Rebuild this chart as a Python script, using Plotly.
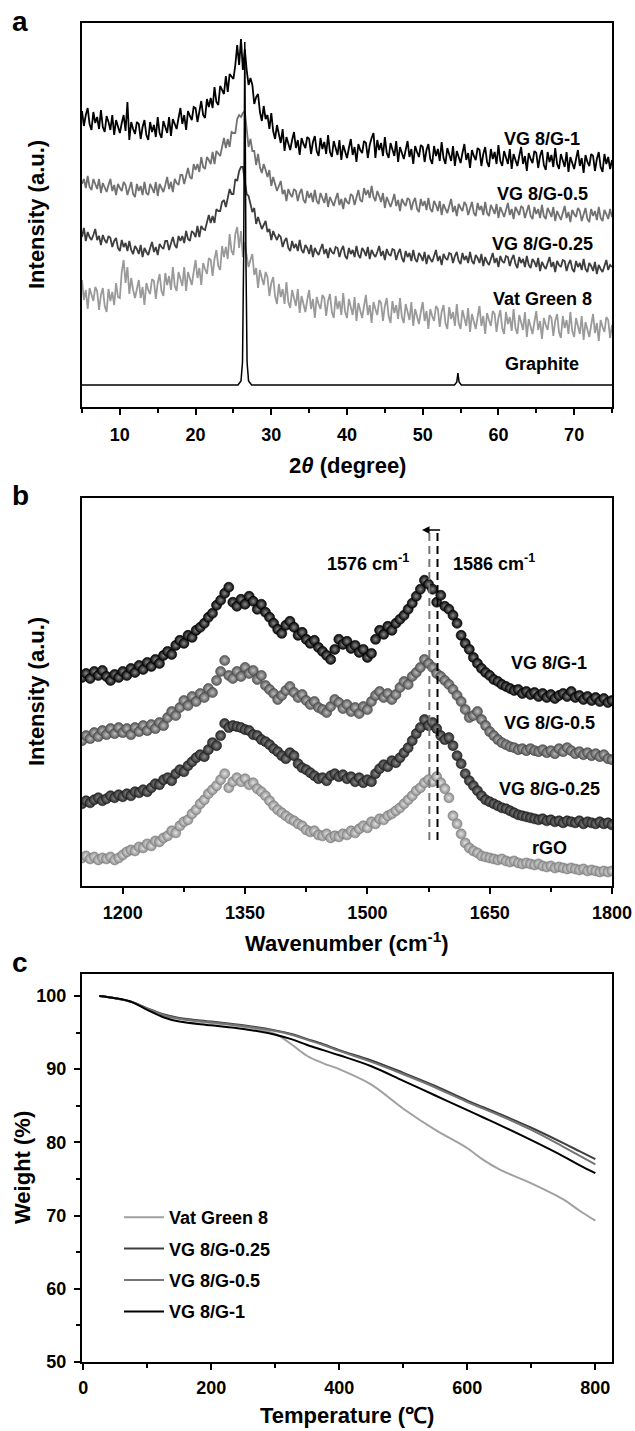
import plotly.graph_objects as go

W, H = 635, 1431
FONT = 'Liberation Sans, Arial, sans-serif'

# %% panel a - XRD (intensity in arbitrary units, 0.25 degree steps)
two_theta = [5 + 0.25 * i for i in range(281)]

xrd_vg1 = [296, 281, 292, 299, 283, 277, 295, 284, 290, 278,
           297, 280, 275, 291, 285, 277, 292, 272, 287, 279,
           274, 284, 292, 276, 305, 267, 285, 278, 273, 285,
           283, 268, 280, 287, 272, 267, 285, 275, 282, 270,
           290, 274, 269, 286, 280, 274, 290, 271, 288, 282,
           278, 289, 299, 283, 292, 277, 296, 291, 287, 300,
           299, 285, 298, 306, 292, 289, 308, 300, 309, 299,
           320, 305, 302, 321, 317, 313, 331, 315, 333, 330,
           328, 342, 362, 342, 368, 337, 358, 337, 322, 329,
           322, 303, 310, 313, 295, 286, 301, 288, 292, 278,
           294, 276, 268, 282, 273, 264, 278, 256, 270, 263,
           257, 267, 275, 259, 267, 252, 269, 263, 259, 270,
           268, 253, 265, 271, 256, 251, 269, 258, 265, 253,
           272, 255, 250, 266, 260, 252, 267, 247, 262, 254,
           249, 259, 268, 252, 260, 245, 263, 257, 254, 266,
           264, 249, 262, 269, 274, 249, 267, 257, 264, 251,
           270, 254, 249, 264, 258, 251, 266, 245, 260, 253,
           248, 257, 266, 250, 258, 243, 261, 255, 250, 262,
           260, 245, 257, 263, 248, 243, 261, 251, 258, 246,
           265, 249, 243, 259, 253, 246, 261, 241, 256, 249,
           244, 254, 263, 247, 254, 239, 257, 251, 247, 259,
           257, 241, 253, 260, 245, 240, 258, 248, 255, 243,
           262, 246, 241, 256, 250, 243, 258, 238, 253, 246,
           241, 251, 260, 243, 251, 236, 254, 248, 244, 256,
           254, 239, 251, 257, 242, 237, 255, 245, 252, 240,
           259, 243, 238, 253, 247, 240, 255, 235, 250, 243,
           238, 248, 257, 241, 249, 234, 252, 245, 241, 253,
           251, 236, 248, 255, 240, 235, 253, 243, 250, 238,
           247]

xrd_vg05 = [223, 228, 219, 231, 220, 217, 228, 223, 218, 228,
            214, 224, 219, 215, 222, 228, 216, 222, 212, 223,
            219, 216, 225, 222, 212, 220, 225, 213, 210, 223,
            216, 221, 212, 225, 214, 212, 223, 219, 214, 225,
            211, 223, 218, 215, 222, 230, 218, 225, 215, 228,
            224, 222, 232, 232, 223, 233, 239, 230, 228, 243,
            237, 243, 235, 250, 240, 238, 250, 247, 243, 255,
            243, 256, 253, 251, 260, 269, 259, 268, 260, 275,
            274, 274, 288, 292, 290, 294, 296, 275, 260, 268,
            256, 256, 242, 253, 240, 234, 243, 237, 230, 237,
            221, 230, 223, 216, 221, 226, 213, 217, 206, 218,
            213, 210, 218, 216, 206, 214, 218, 207, 204, 216,
            209, 214, 205, 217, 206, 203, 214, 209, 204, 214,
            200, 210, 205, 201, 208, 214, 202, 208, 198, 209,
            205, 203, 213, 211, 202, 211, 217, 207, 205, 219,
            212, 217, 209, 221, 210, 206, 216, 211, 205, 214,
            199, 210, 204, 200, 206, 213, 201, 207, 196, 208,
            204, 201, 209, 207, 197, 205, 209, 198, 195, 208,
            201, 206, 197, 209, 198, 195, 206, 202, 196, 206,
            192, 203, 198, 194, 201, 208, 195, 201, 191, 203,
            199, 196, 205, 202, 192, 200, 205, 194, 191, 204,
            197, 201, 192, 205, 194, 191, 202, 198, 193, 203,
            189, 200, 195, 190, 197, 204, 192, 198, 188, 200,
            196, 192, 201, 199, 189, 197, 202, 191, 188, 200,
            193, 198, 189, 202, 191, 188, 199, 195, 190, 200,
            186, 196, 191, 187, 194, 201, 189, 195, 185, 197,
            193, 190, 199, 196, 186, 194, 199, 188, 185, 198,
            191, 196, 187, 200, 189, 186, 197, 193, 188, 198,
            190]

xrd_vg025 = [170, 179, 166, 175, 170, 167, 172, 178, 167, 171,
             162, 172, 167, 164, 171, 169, 160, 166, 169, 159,
             156, 167, 160, 164, 156, 166, 157, 153, 161, 158,
             153, 162, 150, 159, 155, 152, 159, 165, 155, 160,
             152, 163, 160, 158, 166, 166, 157, 165, 170, 162,
             159, 171, 166, 171, 164, 176, 168, 166, 176, 174,
             170, 181, 170, 181, 178, 177, 185, 192, 184, 191,
             184, 198, 196, 196, 205, 207, 200, 211, 218, 213,
             213, 228, 226, 236, 240, 240, 226, 213, 211, 204,
             195, 199, 183, 190, 184, 178, 182, 186, 175, 178,
             167, 176, 171, 167, 172, 170, 160, 166, 169, 159,
             156, 166, 159, 163, 156, 167, 157, 154, 162, 159,
             153, 162, 150, 159, 155, 152, 158, 163, 153, 158,
             149, 159, 155, 153, 160, 159, 150, 157, 161, 151,
             148, 159, 153, 157, 150, 161, 152, 149, 159, 156,
             151, 160, 148, 157, 153, 150, 155, 161, 151, 156,
             147, 158, 153, 151, 158, 157, 147, 154, 158, 149,
             145, 156, 150, 154, 146, 157, 148, 145, 154, 151,
             146, 155, 143, 152, 148, 145, 151, 157, 146, 151,
             142, 153, 149, 147, 154, 153, 144, 151, 155, 146,
             143, 154, 147, 151, 144, 155, 146, 143, 152, 149,
             144, 153, 141, 150, 145, 142, 148, 154, 144, 149,
             140, 151, 146, 144, 151, 150, 141, 148, 152, 143,
             139, 150, 144, 148, 140, 151, 142, 139, 148, 145,
             140, 149, 136, 145, 141, 138, 144, 150, 140, 145,
             135, 146, 142, 140, 147, 146, 136, 143, 147, 138,
             135, 146, 140, 144, 137, 148, 138, 135, 144, 141,
             136, 145, 133, 142, 138, 135, 141, 147, 137, 142,
             140]

xrd_vat = [127, 107, 117, 98, 119, 111, 106, 120, 116, 97,
           112, 119, 101, 95, 118, 106, 115, 102, 124, 110,
           109, 135, 147, 124, 140, 113, 129, 117, 109, 118,
           127, 109, 120, 102, 124, 117, 113, 128, 126, 108,
           124, 133, 116, 111, 134, 122, 131, 117, 140, 121,
           116, 135, 129, 121, 140, 116, 135, 127, 122, 135,
           147, 129, 139, 122, 144, 138, 133, 149, 147, 131,
           148, 157, 141, 137, 161, 150, 160, 148, 173, 156,
           152, 173, 180, 159, 176, 150, 165, 151, 140, 147,
           153, 132, 139, 119, 137, 129, 122, 135, 130, 111,
           124, 130, 111, 103, 123, 110, 118, 103, 125, 105,
           99, 117, 109, 101, 118, 94, 111, 102, 95, 107,
           117, 98, 108, 89, 110, 103, 98, 112, 109, 91,
           106, 113, 95, 89, 111, 98, 106, 92, 114, 95,
           89, 108, 101, 92, 110, 86, 104, 95, 89, 101,
           112, 92, 102, 84, 105, 98, 92, 107, 104, 86,
           101, 109, 91, 84, 106, 94, 102, 88, 109, 90,
           84, 103, 95, 87, 105, 81, 98, 89, 83, 95,
           105, 86, 96, 78, 98, 91, 86, 101, 98, 80,
           95, 102, 84, 78, 100, 88, 95, 81, 103, 84,
           78, 97, 90, 81, 99, 75, 93, 84, 78, 90,
           101, 81, 91, 73, 94, 87, 81, 96, 93, 75,
           89, 97, 79, 73, 95, 83, 90, 76, 98, 79,
           73, 92, 85, 77, 95, 70, 88, 79, 73, 85,
           96, 77, 86, 68, 89, 82, 77, 92, 89, 71,
           86, 93, 75, 69, 91, 79, 87, 73, 95, 76,
           70, 89, 82, 73, 91, 67, 85, 76, 70, 82,
           93, 74, 84, 66, 87, 80, 75, 90, 87, 69,
           82]

graphite_2theta = [5, 25.6, 26.0, 26.2, 26.35, 26.5, 26.65, 26.8, 27.0, 27.4,
                   54.2, 54.5, 54.65, 54.8, 55.1, 75]
graphite_int = [22, 22, 26, 45, 150, 365, 150, 45, 26, 22,
                22, 25, 34, 25, 22, 22]

xrd_names = ['VG 8/G-1', 'VG 8/G-0.5', 'VG 8/G-0.25', 'Vat Green 8', 'Graphite']
xrd_label_y = [268, 213, 163, 108, 43]

# %% panel b - Raman
wavenumber = list(range(1150, 1805, 5))

raman_rgo = [28, 30, 27, 29, 26, 28, 27, 29, 26, 28,
             31, 34, 36, 35, 39, 38, 42, 40, 45, 44,
             48, 50, 55, 53, 60, 64, 66, 72, 76, 82,
             86, 92, 96, 100, 106, 112, 98, 104, 108, 104,
             107, 101, 103, 97, 94, 90, 85, 80, 76, 73,
             70, 67, 65, 62, 60, 56, 54, 55, 51, 50,
             52, 48, 50, 49, 52, 51, 55, 53, 57, 60,
             58, 64, 62, 67, 66, 70, 72, 75, 78, 82,
             86, 90, 95, 98, 103, 106, 104, 109, 103, 97,
             88, 70, 62, 52, 43, 38, 35, 33, 30, 29,
             28, 27, 26, 27, 25, 24, 25, 23, 22, 23,
             22, 21, 22, 20, 19, 20, 18, 19, 18, 17,
             18, 17, 16, 17, 15, 16, 15, 14, 15, 14,
             15]

raman_vg025 = [82, 85, 83, 86, 88, 85, 87, 90, 88, 91,
               89, 92, 90, 94, 93, 96, 94, 98, 102, 101,
               106, 108, 105, 112, 116, 114, 120, 124, 128, 131,
               129, 136, 143, 140, 150, 162, 158, 160, 159, 158,
               156, 155, 151, 150, 146, 144, 141, 137, 134, 130,
               127, 133, 130, 122, 118, 116, 113, 110, 107, 108,
               105, 110, 112, 109, 111, 107, 109, 104, 108, 103,
               106, 104, 112, 117, 121, 119, 125, 123, 128, 133,
               138, 145, 152, 158, 166, 160, 163, 157, 150, 146,
               148, 140, 130, 122, 112, 105, 100, 95, 90, 86,
               84, 82, 80, 78, 77, 75, 73, 71, 70, 69,
               68, 67, 66, 67, 65, 66, 64, 65, 63, 65,
               64, 63, 65, 62, 64, 63, 62, 64, 62, 63,
               61]

raman_vg05 = [145, 150, 147, 153, 149, 155, 151, 157, 152, 158,
              153, 157, 151, 158, 154, 160, 155, 161, 157, 163,
              160, 168, 174, 170, 178, 185, 180, 189, 184, 192,
              188, 197, 193, 205, 214, 225, 210, 207, 214, 209,
              218, 212, 215, 206, 210, 200, 196, 192, 186, 190,
              195, 199, 193, 188, 191, 185, 181, 184, 178, 176,
              173, 179, 186, 183, 177, 181, 174, 178, 172, 179,
              176, 184, 190, 194, 188, 192, 186, 191, 198, 204,
              201, 209, 213, 218, 226, 222, 218, 212, 209, 205,
              201, 196, 190, 184, 176, 168, 170, 174, 166, 160,
              154, 150, 146, 143, 141, 139, 138, 136, 137, 135,
              137, 135, 134, 136, 133, 135, 132, 137, 134, 138,
              135, 132, 134, 131, 133, 130, 132, 129, 131, 127,
              126]

raman_vg1 = [208, 212, 207, 214, 210, 215, 209, 205, 211, 208,
             214, 210, 217, 213, 220, 216, 223, 219, 226, 222,
             230, 234, 231, 240, 245, 242, 250, 248, 255, 258,
             262, 268, 272, 280, 285, 292, 298, 283, 279, 286,
             281, 289, 284, 276, 281, 273, 268, 262, 256, 252,
             260, 264, 258, 250, 253, 246, 242, 245, 238, 234,
             230, 226, 236, 246, 241, 244, 237, 240, 233, 236,
             228, 232, 246, 255, 251, 259, 255, 262, 266, 270,
             276, 282, 289, 296, 305, 301, 296, 283, 290, 279,
             276, 270, 262, 250, 242, 236, 228, 222, 217, 213,
             210, 206, 204, 201, 199, 197, 195, 196, 192, 194,
             191, 193, 189, 192, 188, 191, 187, 190, 192, 189,
             194, 188, 190, 186, 189, 185, 188, 184, 187, 183,
             185]

raman_names = ['VG 8/G-1', 'VG 8/G-0.5', 'VG 8/G-0.25', 'rGO']
raman_label_y = [222, 163, 97, 38]
g_band = [1576, 1586]          # G band of the composite and of rGO
g_band_span = [46, 353]
shift_arrow = [1591, 1567]

for s in (raman_rgo, raman_vg025, raman_vg05, raman_vg1):
    assert len(s) == len(wavenumber), len(s)
for s in (xrd_vg1, xrd_vg05, xrd_vg025, xrd_vat):
    assert len(s) == len(two_theta), len(s)

# %% panel c - TGA
temperature = [25, 50, 75, 100, 125, 150, 200, 250, 300, 325, 350, 375,
               400, 450, 500, 550, 600, 625, 650, 700, 750, 775, 800]
tga_vat = [100.0, 99.7, 99.2, 98.2, 97.3, 96.9, 96.3, 95.8, 94.8, 93.4, 91.8, 90.8,
           90.0, 87.9, 84.6, 81.7, 79.2, 77.6, 76.3, 74.4, 72.2, 70.7, 69.3]
tga_vg025 = [100.0, 99.7, 99.2, 98.3, 97.5, 97.0, 96.5, 96.0, 95.3, 94.8, 94.1, 93.4,
             92.6, 91.2, 89.5, 87.7, 85.7, 84.8, 83.9, 82.0, 79.9, 78.8, 77.7]
tga_vg05 = [100.0, 99.7, 99.2, 98.3, 97.4, 96.9, 96.4, 95.9, 95.2, 94.7, 94.0, 93.3,
            92.5, 91.0, 89.3, 87.5, 85.5, 84.6, 83.7, 81.7, 79.4, 78.2, 77.0]
tga_vg1 = [100.0, 99.7, 99.2, 98.1, 97.1, 96.5, 96.0, 95.5, 94.7, 94.1, 93.3, 92.6,
           91.9, 90.4, 88.4, 86.4, 84.4, 83.4, 82.4, 80.3, 78.1, 76.9, 75.8]
tga_names = ['Vat Green 8', 'VG 8/G-0.25', 'VG 8/G-0.5', 'VG 8/G-1']

# %% figure
fig = go.Figure()

xrd_series = [(xrd_vat, '#9a9a9a'), (xrd_vg025, '#3e3e3e'),
              (xrd_vg05, '#727272'), (xrd_vg1, '#000000')]
for vals, col in xrd_series:
    fig.add_trace(go.Scatter(x=two_theta, y=vals, mode='lines', line=dict(color=col, width=1.8),
                             showlegend=False, xaxis='x', yaxis='y'))
fig.add_trace(go.Scatter(x=graphite_2theta, y=graphite_int, mode='lines',
                         line=dict(color='black', width=1.5), showlegend=False, xaxis='x', yaxis='y'))

# ball markers: edge colour, highlight colour, outline
raman_series = [(raman_rgo, '#8e8e8e', '#e2e2e2', '#7a7a7a'),
                (raman_vg025, '#2c2c2c', '#8c8c8c', '#1a1a1a'),
                (raman_vg05, '#585858', '#bdbdbd', '#454545'),
                (raman_vg1, '#050505', '#8a8a8a', '#000000')]
for vals, col, hi, edge in raman_series:
    fig.add_trace(go.Scatter(x=wavenumber, y=vals, mode='markers',
                             marker=dict(size=10, color=col, gradient=dict(type='radial', color=hi),
                                         line=dict(width=0.6, color=edge)),
                             showlegend=False, xaxis='x2', yaxis='y2'))
for pos, col in zip(g_band, ['#777777', '#000000']):
    fig.add_trace(go.Scatter(x=[pos, pos], y=g_band_span, mode='lines',
                             line=dict(color=col, width=2, dash='8px,5px'),
                             showlegend=False, xaxis='x2', yaxis='y2'))

tga_series = [(tga_vat, '#a0a0a0'), (tga_vg025, '#3e3e3e'), (tga_vg05, '#747474'), (tga_vg1, '#000000')]
for name, (vals, col) in zip(tga_names, tga_series):
    fig.add_trace(go.Scatter(x=temperature, y=vals, mode='lines', name=name, legendgroup=name,
                             line=dict(color=col, width=2, shape='spline'),
                             xaxis='x3', yaxis='y3'))


def px_x(p):
    return p / W


def px_y(p):
    return 1 - p / H


tickfont = dict(family=FONT, size=18, color='black', weight='bold')
axis_common = dict(showline=True, linecolor='black', linewidth=2, mirror=True, showgrid=False,
                   zeroline=False, ticks='outside', tickwidth=2, ticklen=6, tickcolor='black',
                   tickfont=tickfont)
xdom = [px_x(82), px_x(612)]
minor = dict(ticks='outside', ticklen=4, tickwidth=2, tickcolor='black')

fig.update_layout(
    width=W, height=H, margin=dict(l=0, r=0, t=0, b=0, autoexpand=False),
    paper_bgcolor='white', plot_bgcolor='white',
    xaxis=dict(axis_common, domain=xdom, range=[5, 75], tick0=0, dtick=10, anchor='y',
               minor=dict(minor, dtick=5), ticklabelstandoff=4),
    yaxis=dict(axis_common, domain=[px_y(407), px_y(23)], range=[0, 384], anchor='x',
               ticks='', showticklabels=False),
    xaxis2=dict(axis_common, domain=xdom, range=[1150, 1800], tick0=1200, dtick=150, anchor='y2',
                minor=dict(minor, dtick=75, tick0=1125), ticklabelstandoff=3),
    yaxis2=dict(axis_common, domain=[px_y(886), px_y(498)], range=[0, 387], anchor='x2',
                ticks='', showticklabels=False),
    xaxis3=dict(axis_common, domain=xdom, range=[-2, 826], tick0=0, dtick=200, anchor='y3',
                minor=dict(minor, dtick=100), ticklabelstandoff=2),
    yaxis3=dict(axis_common, domain=[px_y(1362), px_y(974)], range=[50, 103], tick0=50, dtick=10,
                anchor='x3', minor=dict(minor, dtick=5), ticklabelstandoff=4),
    legend=dict(x=px_x(119), y=px_y(1199), xanchor='left', yanchor='top', tracegroupgap=5,
                font=dict(family=FONT, size=18, color='black', weight='bold'),
                bgcolor='rgba(0,0,0,0)', itemwidth=40),
)

ann = []
lbl_font = dict(family=FONT, size=18, color='black', weight='bold')
for name, yv in zip(xrd_names, xrd_label_y):
    ann.append(dict(x=65.8, y=yv, xref='x', yref='y', text=name, showarrow=False, font=lbl_font))
for name, yv in zip(raman_names, raman_label_y):
    ann.append(dict(x=1723, y=yv, xref='x2', yref='y2', text=name, showarrow=False, font=lbl_font))
ann.append(dict(x=1501, y=323, xref='x2', yref='y2', text='1576 cm<sup>-1</sup>', showarrow=False,
                font=lbl_font))
ann.append(dict(x=1603, y=323, xref='x2', yref='y2', text='1586 cm<sup>-1</sup>', showarrow=False,
                xanchor='left', font=lbl_font))
ann.append(dict(x=shift_arrow[1], y=355, ax=shift_arrow[0], ay=355, xref='x2', yref='y2',
                axref='x2', ayref='y2', text='', showarrow=True, arrowhead=2, arrowsize=1,
                arrowwidth=1.5, arrowcolor='black'))

title_font = dict(family=FONT, size=22, color='black', weight='bold')
for txt, x, y, rot in [('Intensity (a.u.)', 36, 215, -90), ('Intensity (a.u.)', 36, 692, -90),
                       ('Weight (%)', 22, 1168, -90),
                       ('2<i>θ</i> (degree)', 347, 465, 0),
                       ('Wavenumber (cm<sup>-1</sup>)', 347, 942, 0),
                       ('Temperature (℃)', 347, 1415, 0)]:
    ann.append(dict(x=px_x(x), y=px_y(y), xref='paper', yref='paper', text=txt, showarrow=False,
                    xanchor='center', yanchor='middle', textangle=rot, font=title_font))
for txt, y in [('a', 22), ('b', 496), ('c', 962)]:
    ann.append(dict(x=px_x(20), y=px_y(y), xref='paper', yref='paper', text=txt, showarrow=False,
                    xanchor='center', yanchor='middle',
                    font=dict(family=FONT, size=28, color='black', weight='bold')))

fig.update_layout(annotations=ann)
# drop the default page margin so the figure sits at the window's top-left corner
fig.write_html('out.html', config={'displayModeBar': False},
               post_script="document.body.style.margin='0';")
